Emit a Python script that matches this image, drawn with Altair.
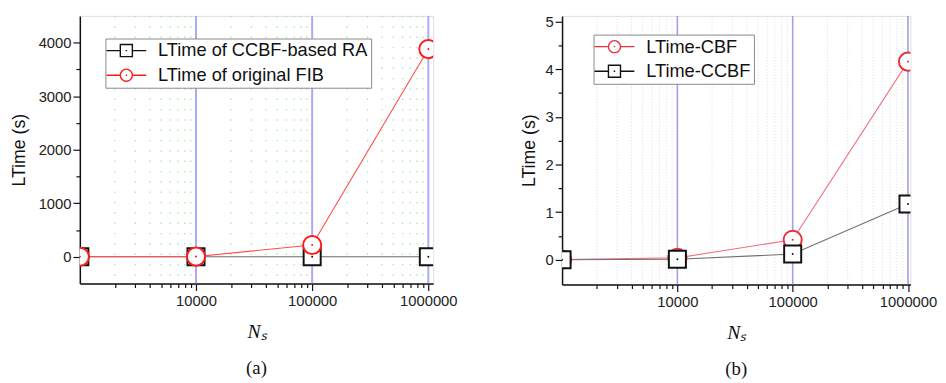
import altair as alt
import pandas as pd

# ---------------- data ----------------
ns = [1000, 10000, 100000, 1000000]

a_series = ["LTime of CCBF-based RA", "LTime of original FIB"]
a_ccbf = [0.002, 0.01, 0.12, 1.17]
a_fib = [0.5, 4, 220, 3880]

b_series = ["LTime-CBF", "LTime-CCBF"]
b_cbf = [0.005, 0.04, 0.42, 4.16]
b_ccbf = [0.002, 0.01, 0.12, 1.17]

decades = [10000, 100000, 1000000]
minor_x = [2000, 3000, 4000, 5000, 6000, 7000, 8000, 9000,
           20000, 30000, 40000, 50000, 60000, 70000, 80000, 90000,
           200000, 300000, 400000, 500000, 600000, 700000, 800000, 900000]

a_yticks = [0, 500, 1000, 1500, 2000, 2500, 3000, 3500, 4000]
b_yticks = [0, 0.5, 1, 1.5, 2, 2.5, 3, 3.5, 4, 4.5, 5]

SQ_PATH = "M-3.3,0H-1M1,0H3.3M-1,-1H1V1H-1ZM-0.12,0H0.12"
CI_PATH = "M-3.3,0H-1M1,0H3.3M-1,0A1,1,0,1,1,1,0A1,1,0,1,1,-1,0ZM-0.12,0H0.12"

FONT = "Liberation Sans"
shapes_size = {"circle": 340, "square": 300}


def long_df(series_names, series_values):
    rows = []
    for name, vals in zip(series_names, series_values):
        for x, v in zip(ns, vals):
            rows.append({"ns": x, "v": v, "series": name})
    return pd.DataFrame(rows)


def panel(df, order, marker_colors, line_colors, shapes, paths, draw_order,
          xmax, width, ydomain, yticks, height, ymajor_expr, ytitlepad,
          legx, legy, major_grid, minor_grid, caption):
    x_enc = alt.X(
        "ns:Q",
        scale=alt.Scale(type="log", domain=[1000, xmax], nice=False),
        axis=alt.Axis(
            values=decades + minor_x,
            labelExpr="indexof([10000,100000,1000000], datum.value) >= 0 ? format(datum.value, 'd') : ''",
            tickSize={"condition": {"test": "indexof([10000,100000,1000000], datum.value) >= 0", "value": 7}, "value": 4},
            labelFont=FONT, labelFontSize=15, labelColor="#222", labelPadding=3,
            labelOverlap=False, labelFlush=False,
            title="Nₛ", titleFont="Liberation Serif", titleFontStyle="italic",
            titleFontWeight="normal", titleFontSize=20, titleColor="#111", titlePadding=14,
            domainColor="#111", domainWidth=1.5, tickColor="#111", tickWidth=1.2, grid=False,
        ),
    )
    y_enc = alt.Y(
        "v:Q",
        scale=alt.Scale(domain=ydomain, nice=False, zero=False),
        axis=alt.Axis(
            values=yticks,
            labelExpr=ymajor_expr + " ? format(datum.value, 'd') : ''",
            tickSize={"condition": {"test": ymajor_expr, "value": 7}, "value": 4},
            labelFont=FONT, labelFontSize=15, labelColor="#222", labelPadding=2,
            labelOverlap=False, labelFlush=False,
            title="LTime (s)", titleFont=FONT, titleFontSize=18, titleFontWeight="normal",
            titleColor="#111", titlePadding=ytitlepad,
            domainColor="#111", domainWidth=1.5, tickColor="#111", tickWidth=1.2, grid=False,
        ),
    )

    grid_df = pd.DataFrame({"ns": minor_x})
    major_df = pd.DataFrame({"ns": decades})
    minor_rules = alt.Chart(grid_df).mark_rule(clip=True, **minor_grid).encode(x=x_enc)
    major_rules = alt.Chart(major_df).mark_rule(clip=True, **major_grid).encode(x=x_enc)

    layers = [minor_rules, major_rules]
    for i, name in enumerate(order):
        layers.append(
            alt.Chart(df).transform_filter(alt.datum.series == name)
            .mark_line(clip=True, color=line_colors[i], strokeWidth=1.1)
            .encode(x=x_enc, y=y_enc)
        )
    for i in draw_order:
        name = order[i]
        base = alt.Chart(df).transform_filter(alt.datum.series == name)
        layers.append(
            base.mark_point(clip=True, shape=shapes[i], size=shapes_size[shapes[i]],
                            filled=False, fill="white", fillOpacity=1,
                            stroke=marker_colors[i], strokeWidth=2, opacity=1)
            .encode(x=x_enc, y=y_enc)
        )
        layers.append(
            base.mark_point(clip=True, shape="circle", size=4, filled=True,
                            color=marker_colors[i], opacity=1)
            .encode(x=x_enc, y=y_enc)
        )

    leg = alt.Legend(
        orient="none", legendX=legx, legendY=legy, title=None,
        strokeColor="#888", fillColor="white", padding=3,
        symbolSize=150, symbolStrokeWidth=1.4, symbolOffset=9,
        labelFont=FONT, labelFontSize=18.5, labelColor="#111", labelOffset=23,
        rowPadding=6, labelLimit=400,
    )
    legend_layer = alt.Chart(df).mark_point(size=0, filled=False, opacity=1).encode(
        x=x_enc, y=y_enc,
        color=alt.Color("series:N", scale=alt.Scale(domain=order, range=marker_colors), legend=leg),
        shape=alt.Shape("series:N", scale=alt.Scale(domain=order, range=paths), legend=leg),
    )
    layers.append(legend_layer)

    return alt.layer(*layers).properties(
        width=width, height=height,
        title=alt.TitleParams(caption, orient="bottom", font="Liberation Serif",
                              fontSize=19, fontWeight="normal", color="#111", offset=18),
    )


df_a = long_df(a_series, [a_ccbf, a_fib])
df_b = long_df(b_series, [b_cbf, b_ccbf])

pa = panel(
    df_a, a_series,
    marker_colors=["#111111", "#ff1a1a"], line_colors=["#6e6e6e", "#ff4d4d"],
    shapes=["square", "circle"], paths=[SQ_PATH, CI_PATH], draw_order=[0, 1],
    xmax=1.1e6, width=359, ydomain=[-500, 4500], yticks=a_yticks, height=272,
    ymajor_expr="datum.value % 1000 == 0", ytitlepad=10,
    legx=26, legy=23,
    major_grid={"color": "#a9a9f5", "strokeWidth": 2},
    minor_grid={"color": "#9ee89e", "strokeWidth": 1.2, "strokeDash": [1.5, 9]},
    caption="(a)",
)
pb = panel(
    df_b, b_series,
    marker_colors=["#e8303a", "#111111"], line_colors=["#f07080", "#707070"],
    shapes=["circle", "square"], paths=[CI_PATH, SQ_PATH], draw_order=[0, 1],
    xmax=1.05e6, width=354, ydomain=[-0.52, 5.12], yticks=b_yticks, height=273,
    ymajor_expr="datum.value % 1 == 0", ytitlepad=7,
    legx=32, legy=19,
    major_grid={"color": "#a0a0e6", "strokeWidth": 1.6},
    minor_grid={"color": "#d4dde6", "strokeWidth": 1, "strokeDash": [1, 2]},
    caption="(b)",
)

chart = alt.hconcat(pa, pb, spacing=131, bounds="flush").resolve_scale(
    color="independent", shape="independent"
).resolve_legend(color="independent", shape="independent").properties(
    padding={"left": 2, "top": 3, "right": 0, "bottom": 0}
).configure_view(stroke=None).configure(background="white")

chart.save("out.html", embed_options={"renderer": "svg", "actions": False})
